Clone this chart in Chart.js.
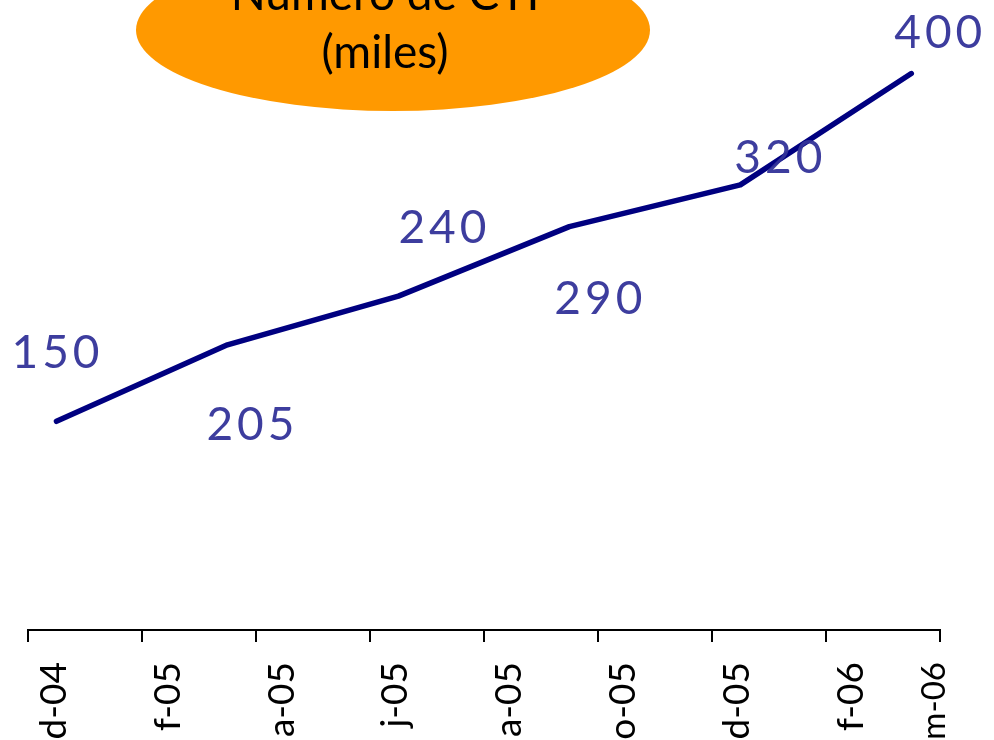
<!DOCTYPE html>
<html>
<head>
<meta charset="utf-8">
<script src="https://cdn.jsdelivr.net/npm/chart.js@4/dist/chart.umd.min.js"></script>
<style>
  body { margin: 0; background: #fff; }
  #wrap { width: 994px; height: 740px; position: relative; }
</style>
</head>
<body>
<div id="wrap"><canvas id="chartCTI"></canvas></div>
<script>
// Número de CTI (miles), trimestral
const periodos = ['dic-04', 'mar-05', 'jun-05', 'sep-05', 'dic-05', 'mar-06'];
const mesPos = [0.5, 3.5, 6.5, 9.5, 12.5, 15.5];   // meses desde 1-dic-2004
const valoresCTI = [150, 205, 240, 290, 320, 400];
const etiquetasEje = ['d-04', 'f-05', 'a-05', 'j-05', 'a-05', 'o-05', 'd-05', 'f-06', 'm-06'];
const mesMax = 16;

// desplazamiento de cada etiqueta de dato respecto al punto (px)
const offsetsEtiq = [[1, -68], [25, 80], [46, -68], [31, 73], [40, -27], [29, -40]];

const fuente = 'Lato, "Open Sans", sans-serif';

const etiquetasDatos = {
    id: 'etiquetasDatos',
    afterDatasetsDraw(chart) {
        const ctx = chart.ctx;
        const meta = chart.getDatasetMeta(0);
        ctx.save();
        ctx.font = '46px ' + fuente;
        ctx.letterSpacing = '4px';
        ctx.fillStyle = 'rgba(51, 51, 153, 0.95)';
        ctx.textAlign = 'center';
        ctx.textBaseline = 'middle';
        meta.data.forEach((p, i) => {
            const off = offsetsEtiq[i];
            ctx.fillText(String(valoresCTI[i]), p.x + off[0], p.y + off[1]);
        });
        ctx.restore();
    }
};

const titulo = {
    id: 'titulo',
    beforeDatasetsDraw(chart) {
        const ctx = chart.ctx;
        ctx.save();
        ctx.fillStyle = '#FF9900';
        ctx.beginPath();
        ctx.ellipse(393, 30, 257, 81, 0, 0, Math.PI * 2);
        ctx.fill();
        ctx.fillStyle = '#000';
        ctx.font = '46px ' + fuente;
        ctx.textAlign = 'center';
        ctx.textBaseline = 'alphabetic';
        ctx.fillText('Número de CTI', 385, 10);
        ctx.fillText('(miles)', 385, 68);
        ctx.restore();
    }
};

const ctx = document.getElementById('chartCTI').getContext('2d');

new Chart(ctx, {
    type: 'line',
    data: {
        labels: periodos,
        datasets: [{
            label: 'Número de CTI (miles)',
            data: mesPos.map((m, i) => ({ x: m, y: valoresCTI[i] })),
            borderColor: '#000080',
            borderWidth: 5.5,
            borderCapStyle: 'round',
            borderJoinStyle: 'round',
            pointRadius: 0,
            tension: 0,
            clip: false
        }]
    },
    options: {
        responsive: true,
        maintainAspectRatio: false,
        animation: false,
        layout: { autoPadding: false, padding: { left: 28, right: 50, top: 4, bottom: 0 } },
        plugins: {
            legend: { display: false },
            tooltip: { enabled: false }
        },
        scales: {
            x: {
                type: 'linear',
                position: 'bottom',
                weight: 0,
                min: 0,
                max: mesMax,
                ticks: { display: false, stepSize: 2 },
                grid: {
                    display: true,
                    drawOnChartArea: false,
                    drawTicks: true,
                    tickLength: 12,
                    color: '#000',
                    lineWidth: 2
                },
                border: { display: true, color: '#000', width: 2 },
                afterFit(scale) { scale.height = 12; }
            },
            xEtiq: {
                type: 'linear',
                position: 'bottom',
                weight: 1,
                min: 0,
                max: mesMax,
                grid: { display: false, drawTicks: false },
                border: { display: false },
                afterBuildTicks(scale) {
                    // etiqueta centrada en el primer mes de cada bloque de 2 meses
                    scale.ticks = etiquetasEje.map((t, i) => ({ value: Math.min(i * 2 + 0.45, mesMax - 0.1) }));
                },
                ticks: {
                    autoSkip: false,
                    minRotation: 90,
                    maxRotation: 90,
                    padding: 20,
                    color: '#000',
                    font: (c) => ({ family: fuente, size: c.index === etiquetasEje.length - 1 ? 33 : 37 }),
                    callback: (v, i) => etiquetasEje[i]
                },
                afterFit(scale) { scale.height = 98; }
            },
            y: {
                display: false,
                min: 0,
                max: 450
            }
        }
    },
    plugins: [titulo, etiquetasDatos]
});
</script>
</body>
</html>
